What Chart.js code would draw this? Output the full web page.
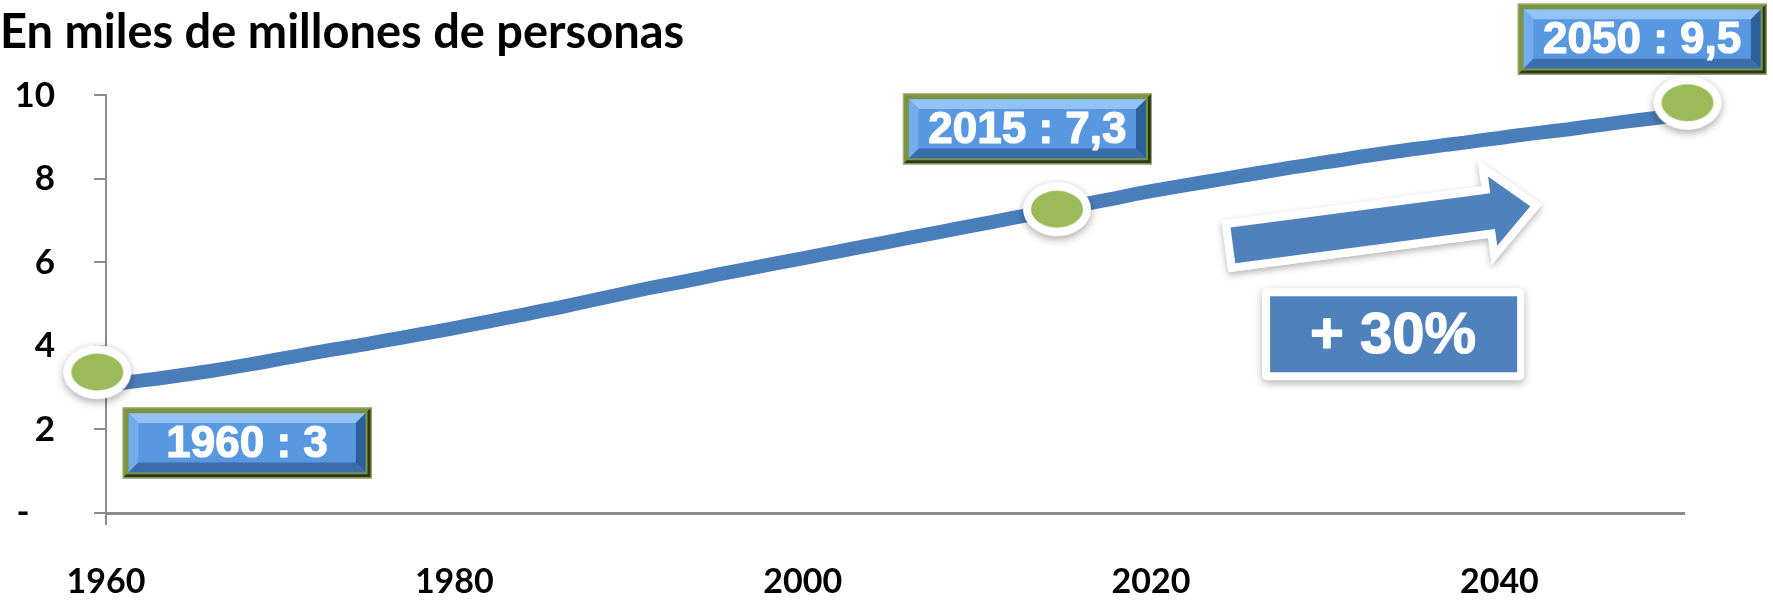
<!DOCTYPE html>
<html>
<head>
<meta charset="utf-8">
<script src="https://cdn.jsdelivr.net/npm/chart.js@4"></script>
<style>
  html, body { margin: 0; padding: 0; background: #fff; }
</style>
</head>
<body>
<canvas id="grafico" width="1773" height="600"></canvas>
<script>
// datos (miles de millones de personas)
var anios = [];
for (var a = 1960; a <= 2050; a++) { anios.push(a); }
var poblacion = [
  3.08, 3.12, 3.17, 3.22, 3.28, 3.34, 3.40, 3.47, 3.54, 3.61,
  3.69, 3.76, 3.84, 3.91, 3.98, 4.05, 4.13, 4.20, 4.28, 4.35,
  4.43, 4.51, 4.59, 4.67, 4.75, 4.84, 4.92, 5.01, 5.10, 5.19,
  5.28, 5.37, 5.45, 5.53, 5.61, 5.70, 5.78, 5.86, 5.94, 6.02,
  6.10, 6.18, 6.26, 6.34, 6.42, 6.50, 6.58, 6.66, 6.74, 6.82,
  6.90, 6.98, 7.06, 7.14, 7.22, 7.30, 7.38, 7.46, 7.54, 7.63,
  7.71, 7.78, 7.85, 7.92, 7.99, 8.06, 8.13, 8.20, 8.27, 8.33,
  8.40, 8.46, 8.53, 8.59, 8.65, 8.71, 8.76, 8.82, 8.87, 8.93,
  8.98, 9.04, 9.09, 9.14, 9.19, 9.25, 9.30, 9.36, 9.41, 9.46,
  9.52
];
var marcasAnio = [1959.5, 2014.6, 2050.8];
var marcasValor = [3.35, 7.25, 9.8];
var etiquetas = ['1960 : 3', '2015 : 7,3', '2050 : 9,5'];
var textoCrecimiento = '+ 30%';
var titulo = 'En miles de millones de personas';

// posiciones de las cajas (en unidades de los ejes)
var cajas = [
  { x: 1968.1, y: 1.68 },
  { x: 2012.9, y: 9.2 },
  { x: 2048.2, y: 11.35 }
];
var cajaCrec = { x: 2033.9, y: 4.28 };
var flecha = { x: 2024.7, y: 6.41 };

function crearMarcador() {
  var c = document.createElement('canvas');
  c.width = 92; c.height = 78;
  var g = c.getContext('2d');
  g.save();
  g.shadowColor = 'rgba(0,0,0,0.35)';
  g.shadowBlur = 8;
  g.shadowOffsetY = 3;
  g.fillStyle = '#ffffff';
  g.beginPath();
  g.ellipse(46, 38, 34, 27, 0, 0, Math.PI * 2);
  g.fill();
  g.restore();
  g.fillStyle = '#9bbb59';
  g.beginPath();
  g.ellipse(46, 38, 26, 18.5, 0, 0, Math.PI * 2);
  g.fill();
  return c;
}

function textoGrueso(ctx, texto, x, y, tam) {
  ctx.font = 'bold ' + tam + 'px "Liberation Sans", Arial';
  ctx.textAlign = 'center';
  ctx.textBaseline = 'middle';
  ctx.lineJoin = 'round';
  ctx.strokeStyle = '#ffffff';
  ctx.lineWidth = 1.2;
  ctx.strokeText(texto, x, y);
  ctx.fillStyle = '#ffffff';
  ctx.fillText(texto, x, y);
}

function cajaBisel(ctx, cx, cy, w, h, texto) {
  var x = cx - w / 2, y = cy - h / 2;
  // marco oliva
  ctx.fillStyle = '#7b9441';
  ctx.fillRect(x, y, w, h);
  ctx.fillStyle = '#2e3a14';
  ctx.beginPath();
  ctx.moveTo(x + w, y); ctx.lineTo(x + w, y + h); ctx.lineTo(x, y + h);
  ctx.lineTo(x + 4, y + h - 4); ctx.lineTo(x + w - 4, y + h - 4); ctx.lineTo(x + w - 4, y + 4);
  ctx.closePath(); ctx.fill();
  ctx.strokeStyle = '#a8b884'; ctx.lineWidth = 1;
  ctx.strokeRect(x + 0.5, y + 0.5, w - 1, h - 1);
  // bisel azul
  var ix = x + 6, iy = y + 6, iw = w - 12, ih = h - 12, b = 10;
  ctx.fillStyle = '#5898e0';
  ctx.fillRect(ix, iy, iw, ih);
  ctx.fillStyle = '#93c2f6';
  ctx.beginPath();
  ctx.moveTo(ix, iy); ctx.lineTo(ix + iw, iy); ctx.lineTo(ix + iw - b, iy + b); ctx.lineTo(ix + b, iy + b);
  ctx.closePath(); ctx.fill();
  ctx.fillStyle = '#74abea';
  ctx.beginPath();
  ctx.moveTo(ix, iy); ctx.lineTo(ix + b, iy + b); ctx.lineTo(ix + b, iy + ih - b); ctx.lineTo(ix, iy + ih);
  ctx.closePath(); ctx.fill();
  ctx.fillStyle = '#3b6dab';
  ctx.beginPath();
  ctx.moveTo(ix, iy + ih); ctx.lineTo(ix + b, iy + ih - b); ctx.lineTo(ix + iw - b, iy + ih - b); ctx.lineTo(ix + iw, iy + ih);
  ctx.closePath(); ctx.fill();
  ctx.fillStyle = '#2f5f98';
  ctx.beginPath();
  ctx.moveTo(ix + iw, iy); ctx.lineTo(ix + iw, iy + ih); ctx.lineTo(ix + iw - b, iy + ih - b); ctx.lineTo(ix + iw - b, iy + b);
  ctx.closePath(); ctx.fill();
  ctx.fillStyle = '#5898e0';
  ctx.fillRect(ix + b, iy + b, iw - 2 * b, ih - 2 * b);
  textoGrueso(ctx, texto, cx, cy + 2, 44);
}

var anotaciones = {
  id: 'anotaciones',
  afterDraw: function (chart) {
    var ctx = chart.ctx;
    var sx = chart.scales.x, sy = chart.scales.y;
    ctx.save();

    // flecha
    var fx = sx.getPixelForValue(flecha.x), fy = sy.getPixelForValue(flecha.y);
    ctx.translate(fx, fy);
    ctx.rotate(-7.5 * Math.PI / 180);
    ctx.beginPath();
    ctx.moveTo(0, -18); ctx.lineTo(262, -18); ctx.lineTo(262, -35); ctx.lineTo(300, 0);
    ctx.lineTo(262, 35); ctx.lineTo(262, 18); ctx.lineTo(0, 18);
    ctx.closePath();
    ctx.save();
    ctx.shadowColor = 'rgba(0,0,0,0.3)';
    ctx.shadowBlur = 7;
    ctx.shadowOffsetY = 3;
    ctx.lineJoin = 'miter';
    ctx.strokeStyle = '#ffffff';
    ctx.lineWidth = 16;
    ctx.stroke();
    ctx.restore();
    ctx.strokeStyle = '#ffffff';
    ctx.lineWidth = 16;
    ctx.stroke();
    ctx.fillStyle = '#4f81bd';
    ctx.fill();
    ctx.setTransform(1, 0, 0, 1, 0, 0);

    // caja + 30%
    var cx = sx.getPixelForValue(cajaCrec.x), cy = sy.getPixelForValue(cajaCrec.y);
    ctx.save();
    ctx.shadowColor = 'rgba(0,0,0,0.3)';
    ctx.shadowBlur = 8;
    ctx.shadowOffsetY = 3;
    ctx.fillStyle = '#ffffff';
    ctx.beginPath();
    ctx.roundRect(cx - 131, cy - 46, 262, 92, 5);
    ctx.fill();
    ctx.restore();
    ctx.fillStyle = '#4f81bd';
    ctx.fillRect(cx - 123, cy - 38, 247, 76);
    textoGrueso(ctx, textoCrecimiento, cx, cy + 3, 58);

    // etiquetas de año
    for (var i = 0; i < etiquetas.length; i++) {
      cajaBisel(ctx, sx.getPixelForValue(cajas[i].x), sy.getPixelForValue(cajas[i].y), 249, 71, etiquetas[i]);
    }
    ctx.restore();
  }
};

var ctx = document.getElementById('grafico');
var grafico = new Chart(ctx, {
  type: 'line',
  data: {
    datasets: [
      {
        data: marcasAnio.map(function (v, i) { return { x: v, y: marcasValor[i] }; }),
        showLine: false,
        pointStyle: crearMarcador(),
        pointRadius: 30,
        clip: false,
        order: 0
      },
      {
        data: anios.map(function (v, i) { return { x: v, y: poblacion[i] }; }),
        borderColor: '#4a7ebb',
        borderWidth: 14,
        pointRadius: 0,
        tension: 0,
        order: 1
      }
    ]
  },
  options: {
    responsive: false,
    animation: false,
    layout: { padding: { left: 0, right: 89, top: 0, bottom: 0 } },
    plugins: {
      legend: { display: false },
      tooltip: { enabled: false },
      title: {
        display: true,
        text: titulo,
        align: 'start',
        color: '#000',
        font: { family: 'Lato', size: 47, weight: 'bold', lineHeight: 1.2 },
        padding: { top: 5, bottom: 34 }
      }
    },
    scales: {
      x: {
        type: 'linear',
        min: 1960,
        max: 2050.6,
        afterFit: function (scale) { scale.height = 87; },
        afterBuildTicks: function (scale) {
          scale.ticks = scale.ticks.filter(function (t) { return t.value % 20 === 0; });
        },
        border: { display: true, color: '#8c8c8c', width: 3 },
        grid: {
          drawOnChartArea: false,
          drawTicks: true,
          tickLength: 12,
          lineWidth: 2,
          color: function (c) { return c.tick && c.tick.value === 1960 ? '#8c8c8c' : 'rgba(0,0,0,0)'; }
        },
        ticks: {
          stepSize: 20,
          padding: 37,
          maxRotation: 0,
          color: '#000',
          font: { family: 'Lato', size: 34, weight: 'bold' },
          callback: function (v) { return String(v); }
        }
      },
      y: {
        min: 0,
        max: 10,
        afterFit: function (scale) { scale.width = 106; },
        border: { display: true, color: '#8c8c8c', width: 2 },
        grid: {
          drawOnChartArea: false,
          drawTicks: true,
          tickLength: 12,
          lineWidth: 2,
          color: '#8c8c8c'
        },
        ticks: {
          stepSize: 2,
          padding: 39,
          color: '#000',
          font: { family: 'Lato', size: 35, weight: 'bold' },
          callback: function (v) { return v === 0 ? '-   ' : String(v); }
        }
      }
    }
  },
  plugins: [anotaciones]
});
</script>
</body>
</html>
